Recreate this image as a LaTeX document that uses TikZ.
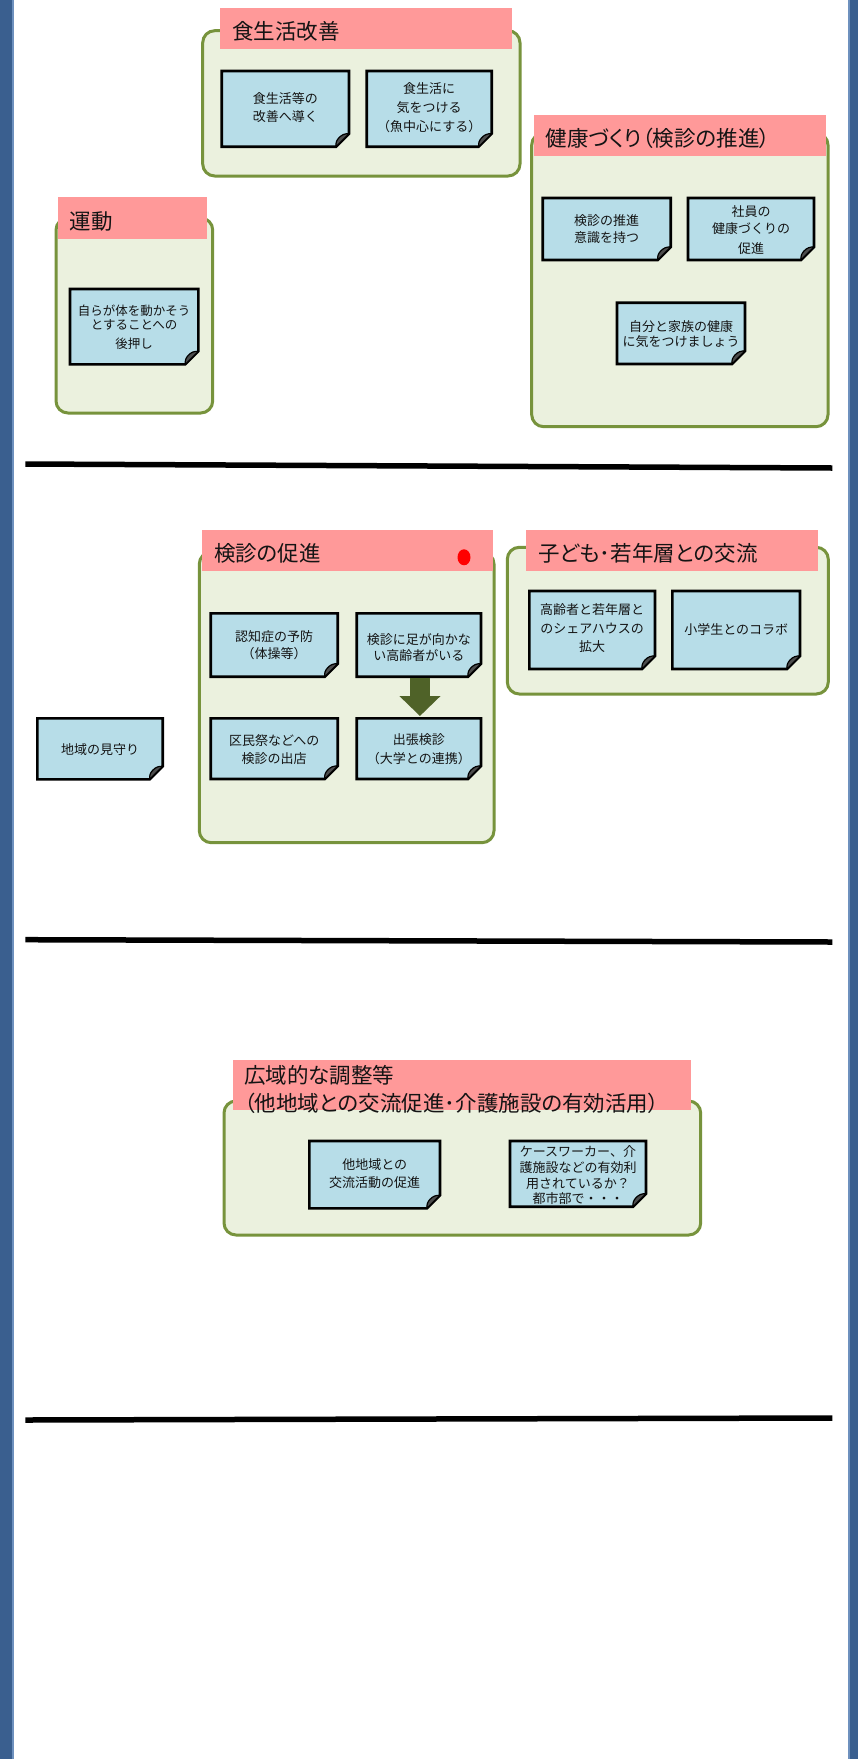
\documentclass[tikz,border=0pt]{standalone}
\usepackage{fontspec}
\setmainfont{Noto Sans CJK JP}
\newfontfamily\headfont[RawFeature=+palt]{Noto Sans CJK JP}
\usetikzlibrary{fit,arrows.meta}
\definecolor{barblue}{RGB}{58,95,143}
\definecolor{barlight}{RGB}{110,145,190}
\definecolor{boxfill}{RGB}{235,241,222}
\definecolor{boxline}{RGB}{119,147,60}
\definecolor{headpink}{RGB}{255,153,153}
\definecolor{notefill}{RGB}{183,221,232}
\definecolor{arrowgreen}{RGB}{79,98,40}
\definecolor{textdark}{RGB}{20,20,20}
\definecolor{dotred}{RGB}{255,0,0}
\tikzset{
  groupbox/.style={draw=boxline, fill=boxfill, line width=3pt, rounded corners=12pt},
  headbar/.style={fill=headpink, draw=none},
  headtext/.style={anchor=west, inner sep=0, font=\headfont\fontsize{21.5}{27.5}\selectfont, text=textdark},
  notebody/.style={fill=notefill, draw=black, line width=2.6pt, line join=miter},
  notetext/.style={align=center, inner sep=0, font=\fontsize{13}{17}\selectfont, text=textdark},
  foldflap/.style={fill=black!70, draw=black, line width=1.2pt, line join=round},
  rulestyle/.style={line width=5.5pt, black},
  blockarrow/.style={arrowgreen, line width=20pt, -{Triangle[width=40pt,length=20pt]}},
}
\newcommand\notebox[5]{%
  \coordinate (#1-a) at (#2,#3);
  \coordinate (#1-b) at (#4,#5);
  \node[inner sep=0pt, outer sep=0pt, fit=(#1-a)(#1-b)] (#1) {};
  \draw[notebody] (#1.north west) -- (#1.north east) -- ([yshift=13pt]#1.south east)
     -- ([xshift=-13pt]#1.south east) -- (#1.south west) -- cycle;
  \filldraw[foldflap] ([yshift=13pt]#1.south east) to[bend right=25] ([xshift=-10pt,yshift=9pt]#1.south east)
     to[bend right=25] ([xshift=-13pt]#1.south east) -- cycle;
}
\begin{document}
\begin{tikzpicture}[x=1pt,y=-1pt]
\useasboundingbox (0,0) rectangle (858,1759);
\fill[white] (0,0) rectangle (858,1759);
% side bars
\fill[barblue] (0,0) rectangle (14.3,1759);
\fill[barlight] (12.3,0) rectangle (14.3,1759);
\fill[barblue] (847.7,0) rectangle (858,1759);
\fill[barlight] (847.7,0) rectangle (849.5,1759);

% ---------------- section 1
% 食生活改善
\draw[groupbox] (202.7,30.7) rectangle (520,176);
\fill[headbar] (220,8.3) rectangle (511.7,49);
\node[headtext] (t1) at (232,31.7) {食生活改善};
\notebox{sn1}{221.7}{71}{349}{146.7}
\notebox{sn2}{366.7}{71}{491.7}{146.7}
\node[notetext, font=\fontsize{13}{18}\selectfont] (sn1t) at (285.4,108) {食生活等の\\改善へ導く};
\node[notetext, font=\fontsize{13}{18.7}\selectfont] (sn2t) at (429.2,107.7) {食生活に\\気をつける\\（魚中心にする）};

% 健康づくり
\draw[groupbox] (531.7,133) rectangle (828,426.7);
\fill[headbar] (534,115) rectangle (826,155.7);
\node[headtext] (t2) at (545.5,138.3) {健康づくり（検診の推進）};
\notebox{kn1}{542.7}{198}{670.7}{260}
\notebox{kn2}{688}{198}{814}{260}
\notebox{kn3}{617}{302.7}{745}{364}
\node[notetext, font=\fontsize{13}{17.7}\selectfont] (kn1t) at (606.7,229) {検診の推進\\意識を持つ};
\node[notetext, font=\fontsize{13}{16.6}\selectfont] (kn2t) at (751,230) {社員の\\健康づくりの\\[3.4pt]促進};
\node[notetext, font=\fontsize{13}{15}\selectfont] (kn3t) at (681,334.2) {自分と家族の健康\\に気をつけましょう};

% 運動
\draw[groupbox] (56,218) rectangle (212.7,413);
\fill[headbar] (57.7,196.7) rectangle (206.7,239);
\node[headtext] (t3) at (69.5,221.7) {運動};
\notebox{un1}{70}{289}{198.3}{364.3}
\node[notetext, font=\fontsize{12.5}{14}\selectfont] (un1t) at (134.2,327.5) {自らが体を動かそう\\とすることへの\\[5pt]後押し};

\draw[rulestyle] (25.3,464) -- (832.3,468);

% ---------------- section 2
% 検診の促進
\draw[groupbox] (199.3,552) rectangle (494,842.7);
\fill[headbar] (201.7,530) rectangle (492.7,570.7);
\node[headtext] (t4) at (214,553.3) {検診の促進};
\fill[dotred] (464,557.3) ellipse [x radius=6.5, y radius=8];
\notebox{cn1}{210.7}{613.3}{337.7}{676.7}
\notebox{cn2}{356.7}{613.3}{481}{676.7}
\notebox{cn3}{210.7}{718.3}{337.7}{779}
\notebox{cn4}{356.7}{718.3}{481}{779}
\node[notetext, font=\fontsize{13}{16.6}\selectfont] (cn1t) at (274.2,645) {認知症の予防\\（体操等）};
\node[notetext, font=\fontsize{13}{15.7}\selectfont] (cn2t) at (418.9,647.2) {検診に足が向かな\\い高齢者がいる};
\node[notetext, font=\fontsize{13}{17.6}\selectfont] (cn3t) at (274.2,749.5) {区民祭などへの\\検診の出店};
\node[notetext, font=\fontsize{13}{18.3}\selectfont] (cn4t) at (418.9,749.2) {出張検診\\（大学との連携）};
\draw[blockarrow] ([xshift=1.1pt,yshift=-1.3pt]cn2.south) -- ([xshift=1.1pt,yshift=2.3pt]cn4.north);

% 子ども・若年層との交流
\draw[groupbox] (507.3,547.3) rectangle (828.3,694);
\fill[headbar] (526,530) rectangle (818.3,570.7);
\node[headtext] (t5) at (538,553.3) {子ども･若年層との交流};
\notebox{yn1}{529.3}{591}{655}{669}
\notebox{yn2}{672.3}{591}{800}{669}
\node[notetext, font=\fontsize{13}{18.5}\selectfont] (yn1t) at (592.2,628.5) {高齢者と若年層と\\のシェアハウスの\\拡大};
\node[notetext] (yn2t) at (736.2,630) {小学生とのコラボ};

% 地域の見守り
\notebox{mn}{37.3}{718.3}{162.7}{779.3}
\node[notetext] (mnt) at (100,749.3) {地域の見守り};

\draw[rulestyle] (25.3,939.7) -- (832.3,942);

% ---------------- section 3
\draw[groupbox] (224,1101) rectangle (700.7,1235);
\fill[headbar] (232.7,1060) rectangle (690.7,1110);
\node[headtext] (t6a) at (244,1075.7) {広域的な調整等};
\node[headtext] (t6b) at (244,1103.3) {（他地域との交流促進･介護施設の有効活用）};
\notebox{wn1}{309.3}{1141}{440}{1208.3}
\notebox{wn2}{510}{1141}{646}{1206.7}
\node[notetext, font=\fontsize{13}{17.3}\selectfont] (wn1t) at (374.7,1173.7) {他地域との\\交流活動の促進};
\node[notetext, font=\fontsize{13}{15.7}\selectfont] (wn2t) at (578,1175.5) {ケースワーカー、介\\護施設などの有効利\\用されているか？\\都市部で・・・};

\draw[rulestyle] (25.3,1420) -- (832.3,1418);
\end{tikzpicture}
\end{document}
